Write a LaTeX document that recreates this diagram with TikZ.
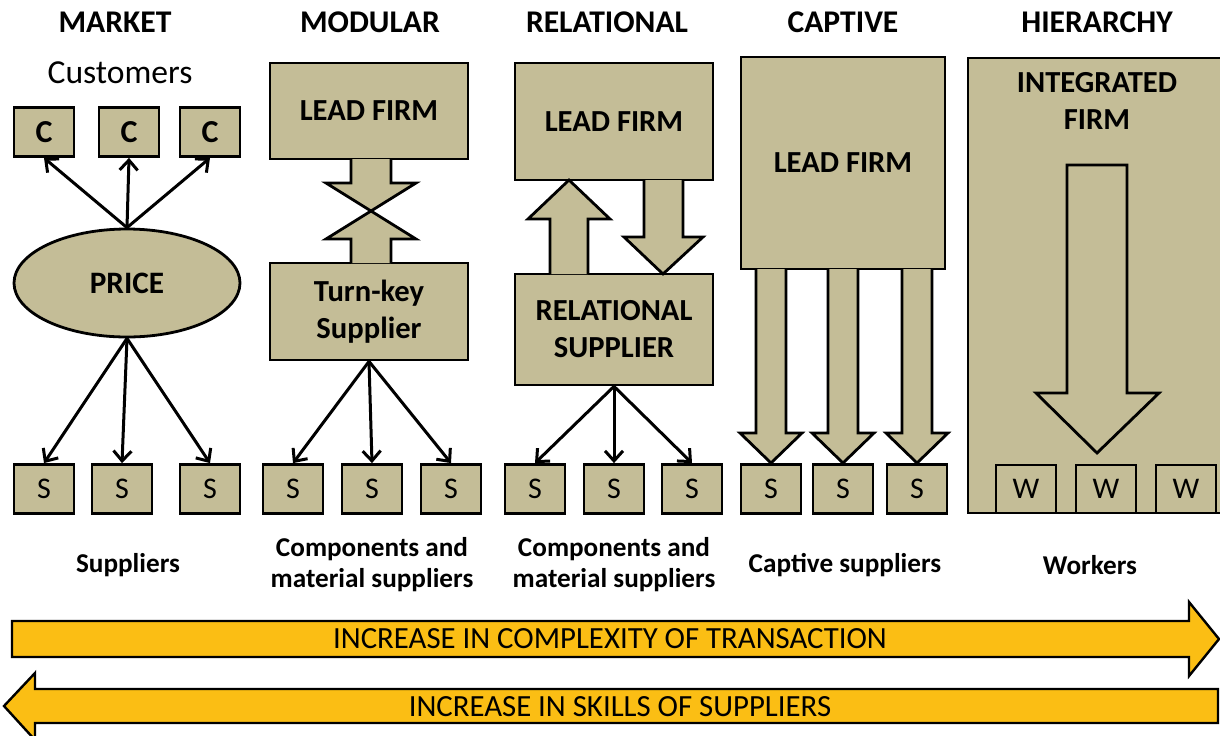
\documentclass[tikz,border=0pt]{standalone}
\usepackage{fontspec}
\setmainfont{Carlito}
\usetikzlibrary{shapes.geometric,arrows.meta}
\definecolor{tanfill}{HTML}{C4BD97}
\definecolor{gold}{HTML}{FBBE14}

\begin{document}
\begin{tikzpicture}[x=0.5pt,y=-0.5pt,
  tanbox/.style={draw,fill=tanfill,line width=1.4pt},
  smallbox/.style={tanbox,minimum width=30pt,minimum height=24.5pt,inner sep=0pt,font=\fontsize{15}{15}\selectfont},
  firm/.style={tanbox,inner sep=0pt,align=center,font=\bfseries\fontsize{15.3}{18.5}\selectfont},
  heading/.style={font=\bfseries\fontsize{15.8}{15.8}\selectfont},
  caption/.style={align=center,font=\bfseries\fontsize{13.6}{15.5}\selectfont},
  link/.style={line width=1.5pt,-{Straight Barb[length=5pt,width=9pt,line width=1.5pt]}},
  blockarrow/.style={tanbox,line join=miter},
  bigarrow/.style={draw,fill=gold,line width=1.2pt,line join=miter},
  bigtext/.style={font=\fontsize{15.4}{15.4}\selectfont}]
\clip (0,0) rectangle (1220,735);

% column titles
\foreach \n/\x/\t in {market/115/MARKET,modular/370/MODULAR,relational/607/RELATIONAL,captive/843/CAPTIVE,hierarchy/1097/HIERARCHY}
  \node[heading] (h\n) at (\x,22) {\t};

% Market
\node[font=\fontsize{16.8}{16.8}\selectfont] (cust) at (120,73) {Customers};
\foreach \i/\x in {1/44,2/129,3/210}
  \node[smallbox,font=\bfseries\fontsize{16}{16}\selectfont] (c\i) at (\x,132) {C};
\node[tanbox,ellipse,minimum width=113pt,minimum height=54pt,font=\bfseries\fontsize{15.6}{15.6}\selectfont] (price) at (127,283) {PRICE};
\foreach \i/\x in {1/44,2/122,3/210}
  \node[smallbox] (ms\i) at (\x,489) {S};
\foreach \i in {1,2,3} {
  \draw[link] (price.north) -- (c\i.south);
  \draw[link] (price.south) -- (ms\i.north);
}
\node[caption] (capmarket) at (128,565) {Suppliers};

% Modular
\node[firm,minimum width=99pt,minimum height=48pt] (modlead) at (369,111) {LEAD FIRM};
\node[firm,minimum width=99pt,minimum height=48.5pt] (turnkey) at (369,311.5) {Turn-key\\Supplier};
\draw[blockarrow] (351,159) -- (351,183) -- (326,183) -- (371,211) -- (416,183) -- (391,183) -- (391,159);
\draw[blockarrow] (351,263) -- (351,239) -- (326,239) -- (371,211) -- (416,239) -- (391,239) -- (391,263);
\foreach \i/\x in {1/293,2/372,3/451} {
  \node[smallbox] (mods\i) at (\x,489) {S};
  \draw[link] (turnkey.south) -- (mods\i.north);
}
\node[caption] (capmodular) at (372,565) {Components and\\material suppliers};

% Relational
\node[firm,minimum width=99pt,minimum height=58.5pt] (rellead) at (614,121.5) {LEAD FIRM};
\node[firm,minimum width=99pt,minimum height=55.5pt] (relsup) at (614,329.5) {RELATIONAL\\SUPPLIER};
\draw[blockarrow] (550,274) -- (550,219) -- (528,219) -- (569,180) -- (610,219) -- (588,219) -- (588,274);
\draw[blockarrow] (644,180) -- (644,237) -- (624,237) -- (663,274) -- (703,237) -- (683,237) -- (683,180);
\foreach \i/\x in {1/535,2/614,3/692} {
  \node[smallbox] (rels\i) at (\x,489) {S};
  \draw[link] (relsup.south) -- (rels\i.north);
}
\node[caption] (caprelational) at (614,565) {Components and\\material suppliers};

% Captive
\node[firm,minimum width=102pt,minimum height=106pt] (caplead) at (843,163) {LEAD FIRM};
\foreach \i/\x in {1/771,2/843,3/917} {
  \draw[blockarrow] (\x-15,269) -- (\x-15,433) -- (\x-31,433) -- (\x,463) -- (\x+31,433) -- (\x+15,433) -- (\x+15,269);
  \node[smallbox] (caps\i) at (\x,489) {S};
}
\node[caption] (capcaptive) at (845,565) {Captive suppliers};

% Hierarchy
\draw[tanbox] (968,58) rectangle (1240,513);
\node[align=center,font=\bfseries\fontsize{15.3}{18.5}\selectfont] (intfirm) at (1097,101) {INTEGRATED\\FIRM};
\draw[blockarrow] (1067,165) -- (1067,393) -- (1036,393) -- (1097,453) -- (1159,393) -- (1127,393) -- (1127,165) -- cycle;
\foreach \i/\x in {1/1026,2/1106,3/1186}
  \node[smallbox,minimum height=24pt] (w\i) at (\x,489) {W};
\node[caption] (caphierarchy) at (1090,565) {Workers};

% bottom arrows
\draw[bigarrow] (12,621) -- (1189,621) -- (1189,602) -- (1219,639) -- (1189,676) -- (1189,657) -- (12,657) -- cycle;
\node[bigtext] (complexity) at (610,639) {INCREASE IN COMPLEXITY OF TRANSACTION};
\draw[bigarrow] (4,706) -- (35,673) -- (35,689) -- (1218,689) -- (1218,723) -- (35,723) -- (35,740) -- cycle;
\node[bigtext] (skills) at (620,707) {INCREASE IN SKILLS OF SUPPLIERS};
\end{tikzpicture}
\end{document}
